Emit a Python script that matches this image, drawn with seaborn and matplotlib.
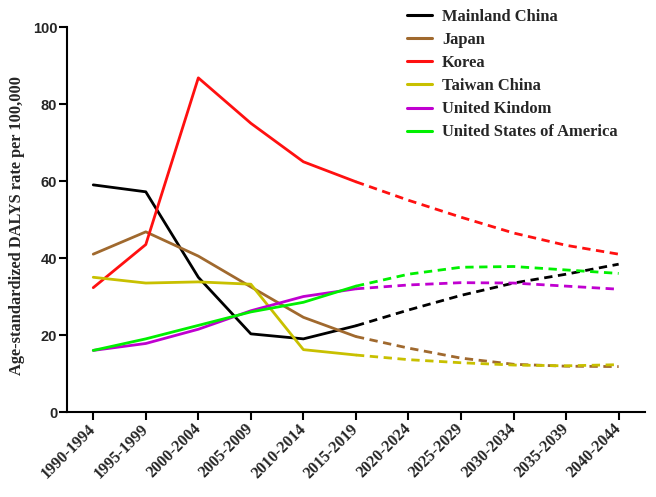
import matplotlib
matplotlib.use("Agg")
import matplotlib.pyplot as plt
import matplotlib.transforms as mtrans
import seaborn as sns
import pandas as pd
from matplotlib.lines import Line2D

periods = ["1990-1994", "1995-1999", "2000-2004", "2005-2009", "2010-2014", "2015-2019",
           "2020-2024", "2025-2029", "2030-2034", "2035-2039", "2040-2044"]
countries = ["Mainland China", "Japan", "Korea", "Taiwan China", "United Kindom",
             "United States of America"]
mainland_china = [59.0, 57.2, 35.0, 20.3, 19.0, 22.4, 26.5, 30.3, 33.5, 35.8, 38.4]
japan = [41.0, 46.8, 40.5, 32.5, 24.6, 19.6, 16.6, 14.0, 12.4, 11.9, 11.8]
korea = [32.3, 43.5, 86.8, 75.0, 65.0, 59.8, 55.0, 50.6, 46.5, 43.3, 41.0]
taiwan_china = [35.0, 33.5, 33.8, 33.2, 16.2, 14.8, 13.6, 12.8, 12.2, 12.0, 12.3]
united_kingdom = [16.0, 17.8, 21.5, 26.3, 30.0, 32.0, 33.0, 33.6, 33.5, 32.7, 31.9]
usa = [16.0, 19.0, 22.5, 26.0, 28.5, 32.7, 35.8, 37.6, 37.8, 36.9, 36.0]
observed_count = 6  # 1990-2019 observed, after that projected

values = [mainland_china, japan, korea, taiwan_china, united_kingdom, usa]
colors = ["#000000", "#A0692E", "#FF1010", "#C8C000", "#C000D0", "#00F000"]

rows = []
for c, vals in zip(countries, values):
    for i, (p, v) in enumerate(zip(periods, vals)):
        rows.append({"country": c, "pos": i, "period": p, "value": v})
df = pd.DataFrame(rows)

sns.set_style("white")
plt.rcParams["font.family"] = ["Liberation Serif", "DejaVu Serif"]

fig = plt.figure(figsize=(6.56, 4.97), dpi=100)
ax = fig.add_axes([0.1021, 0.171, 0.881, 0.7746])

lw = 2.0
for c, col in zip(countries, colors):
    sub = df[df.country == c]
    obs = sub[sub.pos <= observed_count - 1]
    proj = sub[sub.pos >= observed_count - 1]
    sns.lineplot(data=obs, x="pos", y="value", color=col, lw=lw, ax=ax, legend=False)
    sns.lineplot(data=proj, x="pos", y="value", color=col, lw=lw, ax=ax, legend=False,
                 linestyle=(0, (3, 2)))

ax.set_xlim(-0.5, 10.5)
ax.set_ylim(0, 100)
ax.set_xticks(range(len(periods)))
ax.set_xticklabels(periods, rotation=45, ha="right", va="center", rotation_mode="anchor",
                   fontsize=11.5, fontweight="bold", family="Liberation Serif")
offset = mtrans.ScaledTranslation(5 / 100, -5 / 100, fig.dpi_scale_trans)
for lab in ax.get_xticklabels():
    lab.set_transform(lab.get_transform() + offset)
ax.set_yticks([0, 20, 40, 60, 80, 100])
ax.set_yticklabels(["0", "20", "40", "60", "80", "100"], fontsize=10.5,
                   fontweight="bold", family="Liberation Sans")
ax.set_xlabel("")
ax.set_ylabel("Age-standardized DALYS rate per 100,000", fontsize=11.8,
              fontweight="bold", family="Liberation Serif")
ax.yaxis.set_label_coords(-0.073, 0.484)

for s in ["top", "right"]:
    ax.spines[s].set_visible(False)
for s in ["left", "bottom"]:
    ax.spines[s].set_linewidth(1.5)
    ax.spines[s].set_color("black")
ax.tick_params(axis="both", which="major", direction="out", length=5.5, width=1.5,
               color="black", left=True, bottom=True)
ax.tick_params(axis="x", pad=5)
ax.tick_params(axis="y", pad=1.5)

handles = [Line2D([0], [0], color=col, lw=2.2) for col in colors]
leg = fig.legend(handles, countries, loc="upper left", bbox_to_anchor=(0.620, 0.982),
                 bbox_transform=fig.transFigure, frameon=False, borderpad=0,
                 borderaxespad=0, handlelength=1.5, handletextpad=0.65,
                 labelspacing=0.43,
                 prop={"family": "Liberation Serif", "weight": "bold", "size": 11.9})

fig.savefig("out.png", dpi=100)
